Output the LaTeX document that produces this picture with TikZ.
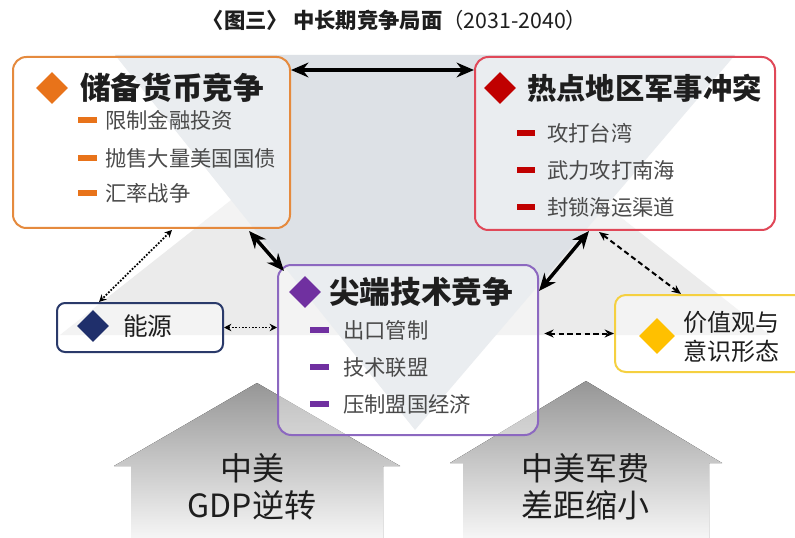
\documentclass[tikz,border=0pt]{standalone}
\usepackage{fontspec}
\setmainfont{Noto Sans CJK SC}
\usetikzlibrary{shapes.geometric,arrows.meta,calc,fit}
\definecolor{corange}{HTML}{E8731A}
\definecolor{borange}{HTML}{E58A3E}
\definecolor{cred}{HTML}{C00000}
\definecolor{bred}{HTML}{E04858}
\definecolor{cpurple}{HTML}{7030A0}
\definecolor{bpurple}{HTML}{8C68C0}
\definecolor{cnavy}{HTML}{1F2F6B}
\definecolor{bnavy}{HTML}{2A3A6A}
\definecolor{cyellow}{HTML}{FFC000}
\definecolor{byellow}{HTML}{F5D040}
\definecolor{roofgray}{HTML}{EBEBEB}
\definecolor{vgray}{HTML}{DDE1E6}
\definecolor{txtdark}{HTML}{1E1E1E}
\definecolor{txtgray}{HTML}{4A4A4A}
\begin{document}
\begin{tikzpicture}[x=0.75pt,y=-0.75pt,
  box/.style={draw, line width=1.5pt, rounded corners=10pt, fill=white, fill opacity=0.4, inner sep=0pt},
  dia/.style={diamond, aspect=1, inner sep=0pt, minimum width=24pt, minimum height=24pt},
  head/.style={anchor=west, inner sep=0pt, text=txtdark, font=\fontsize{23pt}{26pt}\selectfont\bfseries},
  item/.style={anchor=west, inner sep=0pt, text=txtgray, font=\fontsize{16pt}{19pt}\selectfont},
  bulletbar/.style={inner sep=0pt, minimum width=14pt, minimum height=4.5pt},
  thickarr/.style={line width=2.6pt, {Stealth[length=13pt,width=11pt]}-{Stealth[length=13pt,width=11pt]}},
  dotarr/.style={line width=1.3pt, dash pattern=on 1.3pt off 1.2pt, {Stealth[length=5.5pt,width=5.5pt]}-{Stealth[length=5.5pt,width=5.5pt]}},
  dasharr/.style={line width=1.5pt, dash pattern=on 4pt off 2.5pt, {Stealth[length=7pt,width=6pt]}-{Stealth[length=7pt,width=6pt]}},
  bigtext/.style={align=center, inner sep=0pt, text=txtdark, font=\fontsize{24pt}{28pt}\selectfont}
]
\useasboundingbox (0,0) rectangle (795,538);
\clip (0,0) rectangle (795,538);
\fill[white] (0,0) rectangle (795,538);
% background shapes
\fill[roofgray] (415,55) -- (770,335) -- (60,335) -- cycle;
\fill[vgray] (115,55) -- (735,55) -- (415,430) -- cycle;
% bottom arrows
\fill[top color={rgb,255:red,150;green,150;blue,150}, middle color={rgb,255:red,200;green,200;blue,200}, bottom color={rgb,255:red,250;green,250;blue,250}]
  (257,383) -- (400,466) -- (383,466) -- (383,545) -- (131,545) -- (131,466) -- (114,466) -- cycle;
\fill[top color={rgb,255:red,150;green,150;blue,150}, middle color={rgb,255:red,200;green,200;blue,200}, bottom color={rgb,255:red,250;green,250;blue,250}]
  (586,381) -- (722,463) -- (709,463) -- (709,545) -- (463,545) -- (463,463) -- (450,463) -- cycle;
\node[bigtext] (gdp) at (252,487) {中美\\GDP逆转};
\node[bigtext] (mil) at (585,487) {中美军费\\差距缩小};
% title
\node[inner sep=0pt, text=txtdark] (title) at (395,20) {\fontsize{16pt}{18pt}\selectfont\bfseries 〈图三〉 中长期竞争局面\mdseries（2031-2040）};
% box corners
\coordinate (o1) at (13,57);  \coordinate (o2) at (290,228);
\coordinate (r1) at (475,57); \coordinate (r2) at (775,230);
\coordinate (c1) at (278,265); \coordinate (c2) at (538,435);
\coordinate (e1) at (57,303); \coordinate (e2) at (223,352);
\coordinate (v1) at (615,295); \coordinate (v2) at (815,372);
\node[box, draw=borange, fit=(o1)(o2)] (orange) {};
\node[box, draw=bred, fit=(r1)(r2)] (red) {};
\node[box, draw=bpurple, fit=(c1)(c2)] (center) {};
\node[box, draw=bnavy, rounded corners=6pt, fit=(e1)(e2)] (energy) {};
\node[box, draw=byellow, rounded corners=8pt, fit=(v1)(v2)] (values) {};
% orange box content
\node[dia, fill=corange] (od) at (52,88) {};
\node[head] (ot) at (80,88) {储备货币竞争};
\node[bulletbar, fill=corange] (ob1) at (87.5,120) {};
\node[bulletbar, fill=corange] (ob2) at (87.5,158) {};
\node[bulletbar, fill=corange] (ob3) at (87.5,193) {};
\node[item] (oi1) at (105,120) {限制金融投资};
\node[item] (oi2) at (105,158) {抛售大量美国国债};
\node[item] (oi3) at (105,193) {汇率战争};
% red box content
\node[dia, fill=cred] (rd) at (500,88) {};
\node[head, font=\fontsize{22pt}{26pt}\selectfont\bfseries] (rt) at (527,88) {热点地区军事冲突};
\node[bulletbar, fill=cred] (rb1) at (526,133) {};
\node[bulletbar, fill=cred] (rb2) at (526,170) {};
\node[bulletbar, fill=cred] (rb3) at (526,207) {};
\node[item] (ri1) at (547,133) {攻打台湾};
\node[item] (ri2) at (547,170) {武力攻打南海};
\node[item] (ri3) at (547,207) {封锁海运渠道};
% center box content
\node[dia, fill=cpurple] (cd) at (305,292) {};
\node[head] (ct) at (329,292) {尖端技术竞争};
\node[bulletbar, fill=cpurple] (cb1) at (319.5,330) {};
\node[bulletbar, fill=cpurple] (cb2) at (319.5,367) {};
\node[bulletbar, fill=cpurple] (cb3) at (319.5,404) {};
\node[item] (ci1) at (343,330) {出口管制};
\node[item] (ci2) at (343,367) {技术联盟};
\node[item] (ci3) at (343,404) {压制盟国经济};
% energy box content
\node[dia, fill=cnavy] (ed) at (93,326) {};
\node[anchor=west, inner sep=0pt, text=txtdark, font=\fontsize{18.5pt}{22pt}\selectfont] (et) at (123,326) {能源};
% values box content
\node[dia, fill=cyellow, minimum width=27pt, minimum height=27pt] (vd) at (657,336) {};
\node[anchor=west, align=left, inner sep=0pt, text=txtdark, font=\fontsize{18pt}{21.75pt}\selectfont] (vt) at (683,337) {价值观与\\意识形态};
% connectors
\draw[thickarr] ($(orange.north east)+(0,14)$) -- ($(red.north west)+(0,14)$);
\draw[thickarr] ($(orange.south east)+(-42,2)$) -- ($(center.north west)+(7,7)$);
\draw[thickarr] ($(red.south west)+(115,0)$) -- ($(center.north east)+(0,27)$);
\draw[dotarr] ($(orange.south west)+(160,1)$) -- ($(energy.north west)+(43,0)$);
\draw[dotarr] (energy.east) -- (energy.east -| center.west);
\draw[dasharr] ($(red.south west)+(125,1)$) -- ($(values.north west)+(67,0)$);
\draw[dasharr, shorten <=4pt] (values.west -| center.east) -- (values.west);
\end{tikzpicture}
\end{document}
